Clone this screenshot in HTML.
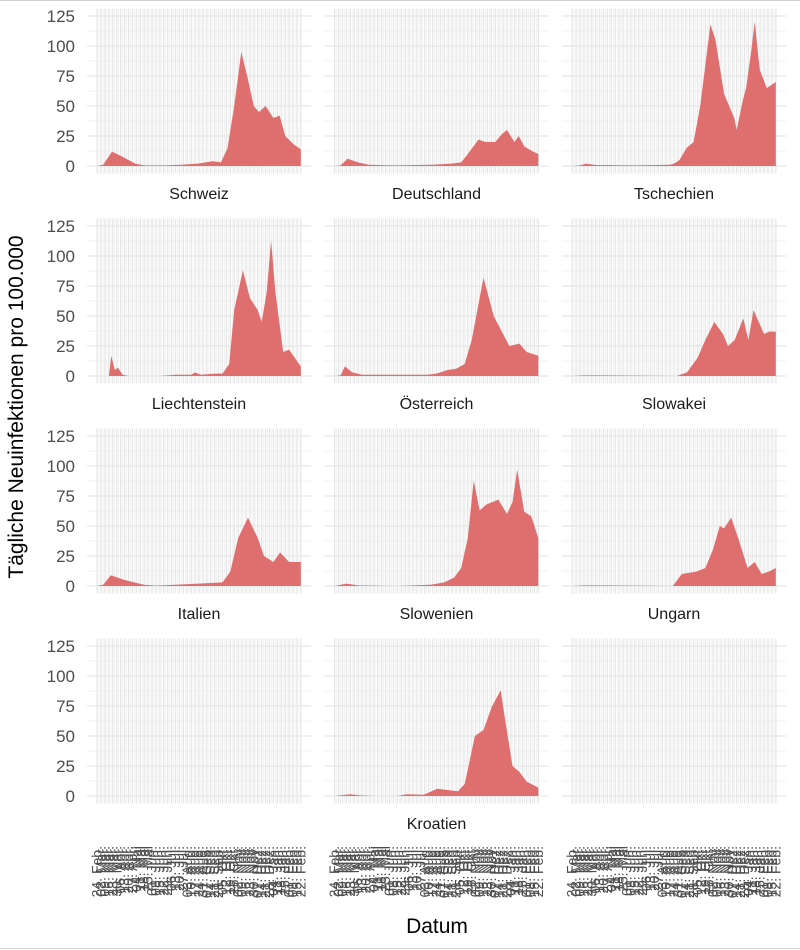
<!DOCTYPE html>
<html><head><meta charset="utf-8">
<style>
html,body{margin:0;padding:0;background:#fff;}
body{width:800px;height:950px;overflow:hidden;font-family:"Liberation Sans",Arial,sans-serif;}
svg{display:block;}
</style></head>
<body>
<svg id="chart" width="800" height="950" viewBox="0 0 800 950" xmlns="http://www.w3.org/2000/svg">
<line x1="0" y1="0.5" x2="800" y2="0.5" stroke="#d0d0d0"/>
<line x1="0" y1="948.5" x2="800" y2="948.5" stroke="#d0d0d0"/>
<text x="23" y="407" transform="rotate(-90 23 407)" text-anchor="middle" font-size="21" fill="#000">Tägliche Neuinfektionen pro 100.000</text>
<text x="437" y="933" text-anchor="middle" font-size="21" fill="#000">Datum</text>
</svg>
<script>
// ---- data ----
const countries = ["Schweiz","Deutschland","Tschechien","Liechtenstein","Österreich","Slowakei","Italien","Slowenien","Ungarn","","Kroatien",""];
const yTicks = [0,25,50,75,100,125];
const xTickLabels = ["24. Feb.","02. Mär.","09. Mär.","16. Mär.","23. Mär.","30. Mär.","06. Apr.","13. Apr.","20. Apr.","27. Apr.","04. Mai","11. Mai","18. Mai","25. Mai","01. Jun.","08. Jun.","15. Jun.","22. Jun.","29. Jun.","06. Jul.","13. Jul.","20. Jul.","27. Jul.","03. Aug.","10. Aug.","17. Aug.","24. Aug.","31. Aug.","07. Sep.","14. Sep.","21. Sep.","28. Sep.","05. Okt.","12. Okt.","19. Okt.","26. Okt.","02. Nov.","09. Nov.","16. Nov.","23. Nov.","30. Nov.","07. Dez.","14. Dez.","21. Dez.","28. Dez.","04. Jan.","11. Jan.","18. Jan.","25. Jan.","01. Feb.","08. Feb.","15. Feb.","22. Feb."];

const schweizWeeks = [0,1.5,3.8,6.3,9.7,12,17,21.5,25.7,29.5,31.6,33.3,35,36.8,38.3,40,41.3,43,45,46.6,48,50.2,52];
const schweizValues = [0,1,12,8,2,0.5,0.5,1,2,4,3,15,50,95,75,50,45,50,40,42,25,18,14];
const deutschlandWeeks = [0,1.5,3.3,6,8.7,15,25,29.7,32.3,34,36.7,38.5,41,42.8,44,45.9,47,48.5,50.7,52];
const deutschlandValues = [0,0.5,6,3,1,0.5,1,2,3,10,22,20,20,27,30,20,25,16,12,10];
const tschechienWeeks = [0,2,3.5,6,16,25,26,27.4,29.2,31,32.7,35.3,36.6,38.8,41.4,42,43.6,44.4,45.7,46.6,47.9,49.7,52];
const tschechienValues = [0,0.5,2,0.8,0.5,1,2,5,15,20,50,118,105,60,40,30,55,65,95,120,80,65,70];
const liechtensteinWeeks = [0,3,3.6,4.5,5.3,6.5,8,16,20,24,25,26.5,30,32,33.7,35,37.2,39,41,42,43.3,44.4,45.5,47.5,49,50.5,52];
const liechtensteinValues = [0,0,17,5,7,1,0,0,1,1,3,1,2,2,10,55,88,65,55,45,70,113,70,20,22,15,8];
const oesterreichWeeks = [0,1.5,2.6,4.5,7,23.6,26,28.8,31,33.2,35,38,40.6,44.6,47.2,49,52];
const oesterreichValues = [0,0.5,8,3,1,1,2,5,6,10,30,82,50,25,27,20,17];
const slowakeiWeeks = [0,3,8,26.7,29.3,32,34,36.3,38.5,39.8,41.5,43.7,45,46.3,49,50.3,52];
const slowakeiValues = [0,0.5,0.5,0,3,15,30,45,35,25,30,48,30,55,35,37,37];
const italienWeeks = [0,1.5,3.5,7,12,15,26,32,34,36,38.5,41,42.6,45,46.7,49,52];
const italienValues = [0,1,9,5,1,0.3,2,3,12,40,57,40,25,20,28,20,20];
const slowenienWeeks = [0,3,6,16,24.5,28,30.5,32.3,34,35.5,37,38.8,41.8,44,45.4,46.6,48.4,50.2,52];
const slowenienValues = [0,2,0.5,0,1,3,7,15,40,88,63,68,72,60,70,97,62,58,40];
const ungarnWeeks = [0,3,8,25.7,28,31.7,34,35.9,37.7,38.8,40.6,42.4,44.8,46.6,48.4,50.2,52];
const ungarnValues = [0,0.5,0.5,0,10,12,15,30,50,48,57,40,15,20,10,12,15];
const kroatienWeeks = [0,3.9,6.5,10,16,18.4,22.7,26.2,28.8,31.5,33.2,35.8,38,40.2,42.4,43.7,45.4,47.2,49,52];
const kroatienValues = [0,1.5,0.5,0,0,1.5,1,6,5,4,10,50,55,75,88,60,25,20,12,7];

const seriesWeeks = [schweizWeeks,deutschlandWeeks,tschechienWeeks,liechtensteinWeeks,oesterreichWeeks,slowakeiWeeks,italienWeeks,slowenienWeeks,ungarnWeeks,null,kroatienWeeks,null];
const seriesValues = [schweizValues,deutschlandValues,tschechienValues,liechtensteinValues,oesterreichValues,slowakeiValues,italienValues,slowenienValues,ungarnValues,null,kroatienValues,null];

// ---- layout ----
const NS = "http://www.w3.org/2000/svg";
const svg = document.getElementById("chart");
const panelLefts = [87, 324.5, 562];
const panelW = 224;
const zeroY0 = 166, rowStep = 210, pxPerUnit = 1.2;
const nWeeks = 52, expand = 0.05;
function xScale(col, w){ const span = nWeeks*(1+2*expand); return panelLefts[col] + (w + nWeeks*expand)/span*panelW; }
function yScale(row, v){ return zeroY0 + row*rowStep - v*pxPerUnit; }
function mk(tag, attrs, parent){ const e=document.createElementNS(NS,tag); for(const k in attrs) e.setAttribute(k,attrs[k]); (parent||svg).appendChild(e); return e; }

for(let i=0;i<12;i++){
  const row=Math.floor(i/3), col=i%3;
  const g = mk("g",{});
  
  
  const top = yScale(row,125+125*expand), bot = yScale(row,-125*expand);
  for(let v=12.5; v<125; v+=25){
    const l=mk("line",{x1:panelLefts[col],x2:panelLefts[col]+panelW,y1:yScale(row,v),y2:yScale(row,v),stroke:"#eeeeee","stroke-width":0.8},g);
    
    
  }
  for(let k=0;k<xTickLabels.length;k++){
    const x=xScale(col,k);
    const l=mk("line",{x1:x,x2:x,y1:top,y2:bot,stroke:"#e6e6e6","stroke-width":1.3},g);
    
    
    if(k<xTickLabels.length-1){
      const xm=xScale(col,k+0.5);
      const m=mk("line",{x1:xm,x2:xm,y1:top,y2:bot,stroke:"#efefef","stroke-width":0.8},g);
      
      
    }
  }
  yTicks.forEach(v=>{
    const l=mk("line",{x1:panelLefts[col],x2:panelLefts[col]+panelW,y1:yScale(row,v),y2:yScale(row,v),stroke:"#e6e6e6","stroke-width":1.3},g);
    
    
  });
  if(seriesWeeks[i]){
    const ws=seriesWeeks[i], vs=seriesValues[i];
    let d="M"+xScale(col,ws[0]).toFixed(1)+","+yScale(row,0).toFixed(1);
    for(let j=0;j<ws.length;j++) d+=" L"+xScale(col,ws[j]).toFixed(1)+","+yScale(row,vs[j]).toFixed(1);
    d+=" L"+xScale(col,ws[ws.length-1]).toFixed(1)+","+yScale(row,0).toFixed(1)+" Z";
    const p=mk("path",{d:d,fill:"#df6f6f"},g);
    
    
  }
  if(countries[i]){
    const t=mk("text",{x:panelLefts[col]+panelW/2,y:yScale(row,0)+33,"text-anchor":"middle","font-size":16,fill:"#1a1a1a"},g);
    t.textContent=countries[i];
    
    
  }
  if(col===0){
    yTicks.forEach(v=>{
      const t=mk("text",{x:75,y:yScale(row,v)+6,"text-anchor":"end","font-size":17,fill:"#4d4d4d"},g);
      t.textContent=v;
      
      
    });
  }
}
for(let col=0;col<3;col++){
  for(let k=0;k<xTickLabels.length;k++){
    const x=xScale(col,k)+4.5, y=846;
    const t=mk("text",{x:x,y:y,transform:"rotate(-90 "+x+" "+y+")","text-anchor":"end","font-size":14,fill:"#4d4d4d"});
    t.textContent=xTickLabels[k];
    
    
  }
}
</script>
</body></html>
